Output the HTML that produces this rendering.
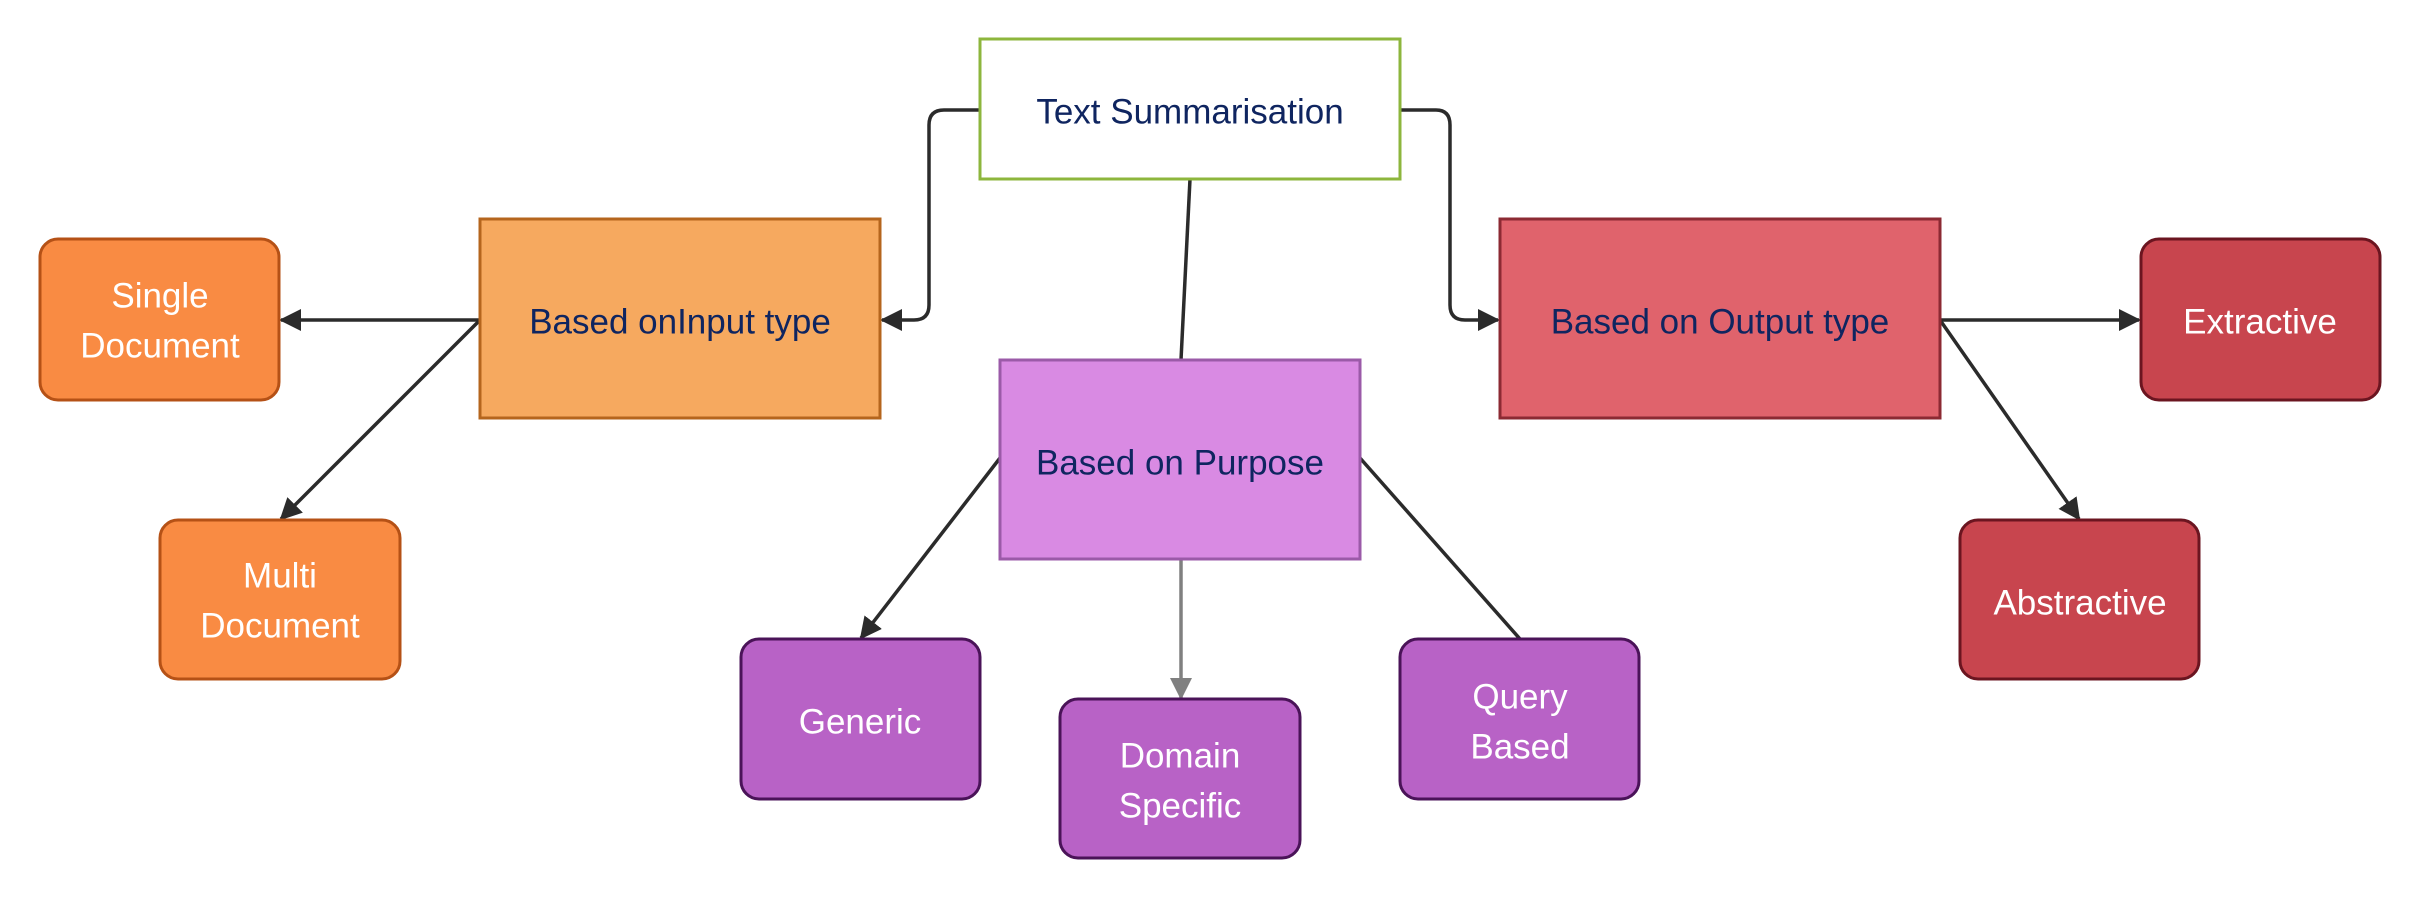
<!DOCTYPE html>
<html><head><meta charset="utf-8"><style>
html,body{margin:0;padding:0;background:#fff;}
svg{display:block}
text{font-family:"Liberation Sans",sans-serif;font-size:35px;text-anchor:middle;dominant-baseline:central}
.d{fill:#0f2560}.w{fill:#fff}
</style></head><body>
<svg width="2420" height="900" viewBox="0 0 2420 900" xmlns="http://www.w3.org/2000/svg">
<defs>
<marker id="a" viewBox="0 0 22 22" refX="20" refY="11" markerWidth="22" markerHeight="22" orient="auto" markerUnits="userSpaceOnUse">
<path d="M0,0 L22,11 L0,22 z" fill="#2b2b2b"/></marker>
<marker id="g" viewBox="0 0 22 22" refX="20" refY="11" markerWidth="22" markerHeight="22" orient="auto" markerUnits="userSpaceOnUse">
<path d="M0,0 L22,11 L0,22 z" fill="#808080"/></marker>
</defs>
<g fill="none" stroke="#2b2b2b" stroke-width="3.5">
<path d="M980,110 H944 Q929,110 929,125 V305 Q929,320 914,320 H882" marker-end="url(#a)"/>
<path d="M1400,110 H1436 Q1450,110 1450,125 V305 Q1450,320 1465,320 H1498" marker-end="url(#a)"/>
<path d="M1190,179 L1181,360"/>
<path d="M480,320 H281" marker-end="url(#a)"/>
<path d="M480,320 L281,519" marker-end="url(#a)"/>
<path d="M1000,458 L861,638" marker-end="url(#a)"/>
<path d="M1360,458 L1520,639"/>
<path d="M1940,320 H2139" marker-end="url(#a)"/>
<path d="M1940,320 L2079,519" marker-end="url(#a)"/>
<path d="M1181,559 V698" stroke="#808080" marker-end="url(#g)"/>
</g>
<rect x="980" y="39" width="420" height="140" fill="#fff" stroke="#8db63c" stroke-width="3"/>
<text x="1190" y="112" class="d">Text Summarisation</text>
<rect x="480" y="219" width="400" height="199" fill="#f6a95f" stroke="#b5651d" stroke-width="3"/>
<text x="680" y="322" class="d">Based onInput type</text>
<rect x="1500" y="219" width="440" height="199" fill="#e0636c" stroke="#8c2a33" stroke-width="3"/>
<text x="1720" y="322" class="d">Based on Output type</text>
<rect x="1000" y="360" width="360" height="199" fill="#d98ae3" stroke="#9b5aa8" stroke-width="3"/>
<text x="1180" y="463" class="d">Based on Purpose</text>
<g stroke-width="3">
<rect x="40" y="239" width="239" height="161" rx="18" fill="#f98b43" stroke="#b55116"/>
<rect x="160" y="520" width="240" height="159" rx="18" fill="#f98b43" stroke="#b55116"/>
<rect x="741" y="639" width="239" height="160" rx="18" fill="#b862c6" stroke="#4a1358"/>
<rect x="1060" y="699" width="240" height="159" rx="18" fill="#b862c6" stroke="#4a1358"/>
<rect x="1400" y="639" width="239" height="160" rx="18" fill="#b862c6" stroke="#4a1358"/>
<rect x="2141" y="239" width="239" height="161" rx="18" fill="#c8454e" stroke="#6b1520"/>
<rect x="1960" y="520" width="239" height="159" rx="18" fill="#c8454e" stroke="#6b1520"/>
</g>
<text x="160" y="296" class="w">Single</text><text x="160" y="346" class="w">Document</text>
<text x="280" y="576" class="w">Multi</text><text x="280" y="626" class="w">Document</text>
<text x="860" y="722" class="w">Generic</text>
<text x="1180" y="756" class="w">Domain</text><text x="1180" y="806" class="w">Specific</text>
<text x="1520" y="697" class="w">Query</text><text x="1520" y="747" class="w">Based</text>
<text x="2260" y="322" class="w">Extractive</text>
<text x="2080" y="603" class="w">Abstractive</text>
</svg>
</body></html>
